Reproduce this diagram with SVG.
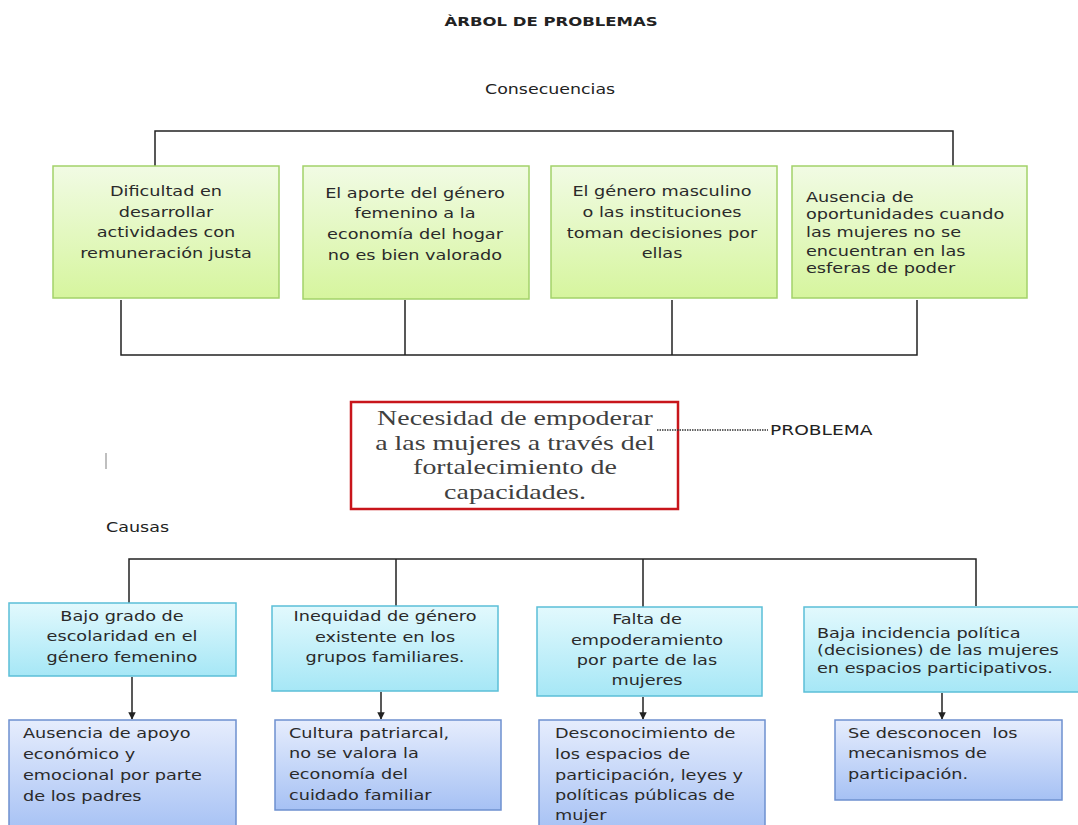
<svg xmlns="http://www.w3.org/2000/svg" width="1078" height="825" viewBox="0 0 1078 825">
<defs>
<linearGradient id="gGreen" x1="0" y1="0" x2="0" y2="1"><stop offset="0" stop-color="#f1fbe4"/><stop offset="1" stop-color="#d6f59e"/></linearGradient>
<linearGradient id="gCyan" x1="0" y1="0" x2="0" y2="1"><stop offset="0" stop-color="#e2f9fd"/><stop offset="1" stop-color="#a6e7f6"/></linearGradient>
<linearGradient id="gBlue" x1="0" y1="0" x2="0" y2="1"><stop offset="0" stop-color="#e6edfd"/><stop offset="1" stop-color="#a6c1f4"/></linearGradient>
<marker id="arr" viewBox="0 0 10 10" refX="9" refY="5" markerWidth="5" markerHeight="5" orient="auto"><path d="M0 0 L10 5 L0 10 Z" fill="#222"/></marker>
<style>
.green{fill:url(#gGreen);stroke:#a3d26a;stroke-width:1.5}
.cyan{fill:url(#gCyan);stroke:#5bbfd7;stroke-width:1.5}
.blue{fill:url(#gBlue);stroke:#6e90cf;stroke-width:1.5}
.prob{fill:#fff;stroke:#c8151b;stroke-width:2.5}
.t{font-family:"DejaVu Sans","Liberation Sans",sans-serif;font-size:14.5px;fill:#2a2a2a}
.c{text-anchor:middle}
.lbl{font-family:"DejaVu Sans","Liberation Sans",sans-serif;font-size:13.5px;fill:#222}
.ttl{font-family:"DejaVu Sans","Liberation Sans",sans-serif;font-size:12.5px;font-weight:bold;fill:#222;text-anchor:middle}
.serif{font-family:"Liberation Serif","Times New Roman",serif;font-size:21px;fill:#404040;text-anchor:middle}
.ln{fill:none;stroke:#222;stroke-width:1.5}
</style>
</defs>
<rect width="1078" height="825" fill="#fff"/>

<g id="connectors">
<path class="ln" d="M155 166 V131 H953 V166"/>
<path class="ln" d="M121 300 V355 H917 V300 M405 300 V355 M672 300 V355"/>
<path class="ln" d="M129 603 V559 H976 V606 M396 559 V606 M643 559 V607"/>
<path class="ln" d="M132 677 V719" marker-end="url(#arr)"/>
<path class="ln" d="M381 692 V719" marker-end="url(#arr)"/>
<path class="ln" d="M643 697 V719" marker-end="url(#arr)"/>
<path class="ln" d="M942 693 V719" marker-end="url(#arr)"/>
</g>

<g id="cons1">
<rect class="green" x="53" y="166" width="226" height="132"/>
<text class="t c" transform="translate(166 0) scale(1.22 1)"><tspan x="0" y="196">Dificultad en</tspan><tspan x="0" y="217">desarrollar</tspan><tspan x="0" y="237">actividades con</tspan><tspan x="0" y="258">remuneración justa</tspan></text>
</g>
<g id="cons2">
<rect class="green" x="303" y="166" width="226" height="133"/>
<text class="t c" transform="translate(415 0) scale(1.22 1)"><tspan x="0" y="198">El aporte del género</tspan><tspan x="0" y="218">femenino a la</tspan><tspan x="0" y="239">economía del hogar</tspan><tspan x="0" y="260">no es bien valorado</tspan></text>
</g>
<g id="cons3">
<rect class="green" x="551" y="166" width="226" height="132"/>
<text class="t c" transform="translate(662 0) scale(1.22 1)"><tspan x="0" y="196">El género masculino</tspan><tspan x="0" y="217">o las instituciones</tspan><tspan x="0" y="238">toman decisiones por</tspan><tspan x="0" y="258">ellas</tspan></text>
</g>
<g id="cons4">
<rect class="green" x="792" y="166" width="235" height="132"/>
<text class="t" transform="translate(806 0) scale(1.22 1)"><tspan x="0" y="202">Ausencia de</tspan><tspan x="0" y="219">oportunidades cuando</tspan><tspan x="0" y="237">las mujeres no se</tspan><tspan x="0" y="256">encuentran en las</tspan><tspan x="0" y="273">esferas de poder</tspan></text>
</g>

<g id="problem">
<rect class="prob" x="351" y="402" width="327" height="107"/>
<text class="serif" transform="translate(515 0) scale(1.33 1)"><tspan x="0" y="425">Necesidad de empoderar</tspan><tspan x="0" y="450">a las mujeres a través del</tspan><tspan x="0" y="474">fortalecimiento de</tspan><tspan x="0" y="499">capacidades.</tspan></text>
</g>

<g id="cause1">
<rect class="cyan" x="9" y="603" width="227" height="73"/>
<text class="t c" transform="translate(122 0) scale(1.22 1)"><tspan x="0" y="621">Bajo grado de</tspan><tspan x="0" y="641">escolaridad en el</tspan><tspan x="0" y="662">género femenino</tspan></text>
</g>
<g id="cause2">
<rect class="cyan" x="272" y="606" width="226" height="85"/>
<text class="t c" transform="translate(385 0) scale(1.22 1)"><tspan x="0" y="621">Inequidad de género</tspan><tspan x="0" y="642">existente en los</tspan><tspan x="0" y="662">grupos familiares.</tspan></text>
</g>
<g id="cause3">
<rect class="cyan" x="537" y="607" width="225" height="89"/>
<text class="t c" transform="translate(647 0) scale(1.22 1)"><tspan x="0" y="624">Falta de</tspan><tspan x="0" y="645">empoderamiento</tspan><tspan x="0" y="665">por parte de las</tspan><tspan x="0" y="685">mujeres</tspan></text>
</g>
<g id="cause4">
<rect class="cyan" x="804" y="607" width="280" height="85"/>
<text class="t" transform="translate(817 0) scale(1.22 1)"><tspan x="0" y="638">Baja incidencia política</tspan><tspan x="0" y="655">(decisiones) de las mujeres</tspan><tspan x="0" y="673">en espacios participativos.</tspan></text>
</g>

<g id="effect1">
<rect class="blue" x="9" y="720" width="227" height="112"/>
<text class="t" transform="translate(23 0) scale(1.22 1)"><tspan x="0" y="738">Ausencia de apoyo</tspan><tspan x="0" y="759">económico y</tspan><tspan x="0" y="780">emocional por parte</tspan><tspan x="0" y="801">de los padres</tspan></text>
</g>
<g id="effect2">
<rect class="blue" x="275" y="720" width="226" height="90"/>
<text class="t" transform="translate(289 0) scale(1.22 1)"><tspan x="0" y="738">Cultura patriarcal,</tspan><tspan x="0" y="758">no se valora la</tspan><tspan x="0" y="779">economía del</tspan><tspan x="0" y="800">cuidado familiar</tspan></text>
</g>
<g id="effect3">
<rect class="blue" x="539" y="720" width="226" height="112"/>
<text class="t" transform="translate(555 0) scale(1.22 1)"><tspan x="0" y="738">Desconocimiento de</tspan><tspan x="0" y="759">los espacios de</tspan><tspan x="0" y="780">participación, leyes y</tspan><tspan x="0" y="800">políticas públicas de</tspan><tspan x="0" y="820">mujer</tspan></text>
</g>
<g id="effect4">
<rect class="blue" x="835" y="720" width="227" height="80"/>
<text class="t" transform="translate(848 0) scale(1.22 1)" xml:space="preserve"><tspan x="0" y="738">Se desconocen  los</tspan><tspan x="0" y="758">mecanismos de</tspan><tspan x="0" y="779">participación.</tspan></text>
</g>

<g id="labels">
<text class="ttl" transform="translate(551 0) scale(1.32 1)" x="0" y="26">ÀRBOL DE PROBLEMAS</text>
<text class="lbl" transform="translate(485 0) scale(1.29 1)" x="0" y="94">Consecuencias</text>
<text class="lbl" transform="translate(106 0) scale(1.3 1)" x="0" y="532">Causas</text>
<text class="lbl" transform="translate(770 0) scale(1.38 1)" x="0" y="435">PROBLEMA</text>
<path d="M657 430 H768" stroke="#333" stroke-width="1.3" stroke-dasharray="1.5 1"/>
<line x1="106" y1="453" x2="106" y2="469" stroke="#aaa" stroke-width="1.5"/>
</g>
</svg>
